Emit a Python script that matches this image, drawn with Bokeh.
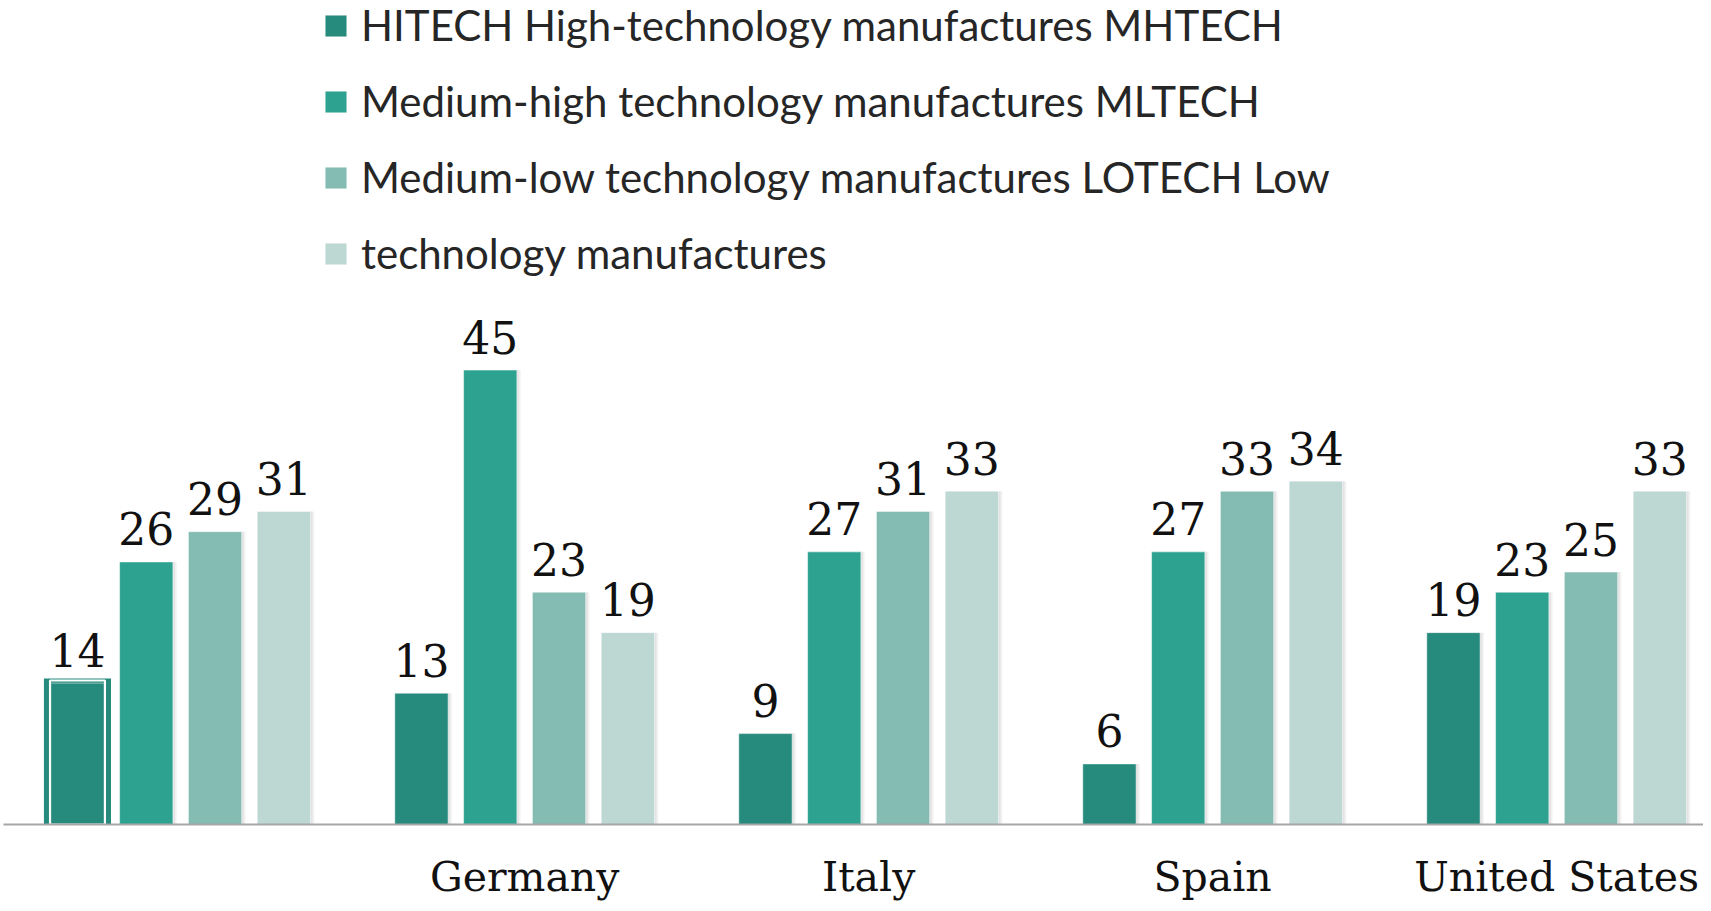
from bokeh.plotting import figure
from bokeh.models import ColumnDataSource, Range1d, FixedTicker, Legend, LegendItem
from bokeh.transform import dodge
from bokeh.core.properties import value
from bokeh.embed import file_html
from bokeh.resources import INLINE

# ---- data ----
countries = ["", "Germany", "Italy", "Spain", "United States"]
series_names = [
    "HITECH High-technology manufactures MHTECH",
    "Medium-high technology manufactures MLTECH",
    "Medium-low technology manufactures LOTECH Low",
    "technology manufactures",
]
hitech = [14, 13, 9, 6, 19]
medium_high = [26, 45, 27, 27, 23]
medium_low = [29, 23, 31, 33, 25]
low_tech = [31, 19, 33, 34, 33]
colors = ["#268A7C", "#2EA291", "#84BBB2", "#BDD7D3"]
highlight_series = 0
highlight_group = 0

series_values = [hitech, medium_high, medium_low, low_tech]
offsets = [-0.3, -0.1, 0.1, 0.3]
bar_w = 0.155

xs = list(range(len(countries)))
data = {"x": xs}
for i, vals in enumerate(series_values):
    data[f"s{i}"] = vals
    data[f"t{i}"] = [str(v) for v in vals]
src = ColumnDataSource(data)

p = figure(width=1703, height=903, output_backend="svg", toolbar_location=None,
           x_range=Range1d(-0.515, 4.427), y_range=Range1d(0, 81.6),
           y_axis_location=None, min_border_left=3, min_border_right=0,
           min_border_top=0, min_border_bottom=0)
p.grid.visible = False
p.outline_line_color = None
p.background_fill_color = "white"
p.border_fill_color = "white"

# shadows
for i in range(4):
    for k, a in ((0.011, 0.05), (0.006, 0.06)):
        p.vbar(x=dodge("x", offsets[i] + k, range=p.x_range), top=f"s{i}", width=bar_w,
               source=src, fill_color="#000000", fill_alpha=a, line_color=None)

# highlighted (selected) bar
hx = highlight_group + offsets[highlight_series]
hv = series_values[highlight_series][highlight_group]
hsrc = ColumnDataSource({"x": [hx], "top": [hv + 0.45], "itop": [hv + 0.25]})
p.vbar(x="x", top="top", width=0.195, source=hsrc,
       fill_color=colors[highlight_series], line_color=None)

renderers = []
for i in range(4):
    r = p.vbar(x=dodge("x", offsets[i], range=p.x_range), top=f"s{i}", width=bar_w,
               source=src, fill_color=colors[i], line_color="white", line_alpha=0.5,
               line_width=1)
    renderers.append(r)
    p.text(x=dodge("x", offsets[i], range=p.x_range), y=f"s{i}", text=f"t{i}",
           source=src, text_align="center", text_baseline="alphabetic", y_offset=-33,
           text_font=value("DejaVu Serif"), text_font_size="44px", text_color="#111111")

p.vbar(x="x", top="itop", width=0.16, source=hsrc, fill_color=None,
       line_color="white", line_width=2)

# axis
ax = p.xaxis[0]
ax.ticker = FixedTicker(ticks=xs)
ax.major_label_overrides = {i: c for i, c in zip(xs, countries)}
ax.axis_line_color = "#A6A6A6"
ax.axis_line_width = 2
ax.major_tick_line_color = None
ax.minor_tick_line_color = None
ax.major_tick_in = 0
ax.major_tick_out = 0
ax.major_label_standoff = 28
ax.major_label_text_font = "DejaVu Serif"
ax.major_label_text_font_size = "41px"
ax.major_label_text_line_height = 1.0
ax.major_label_text_color = "#111111"

legend = Legend(
    items=[LegendItem(label=n, renderers=[r]) for n, r in zip(series_names, renderers)],
    location=(319, 545), orientation="vertical",
    glyph_width=27, glyph_height=27, label_height=52, spacing=24,
    label_standoff=12, padding=0, margin=0,
    label_text_font="Lato", label_text_font_size="42px", label_text_color="#262626",
    border_line_color=None, background_fill_alpha=0,
)
p.add_layout(legend)

open("out.html", "w").write(file_html(p, INLINE))
